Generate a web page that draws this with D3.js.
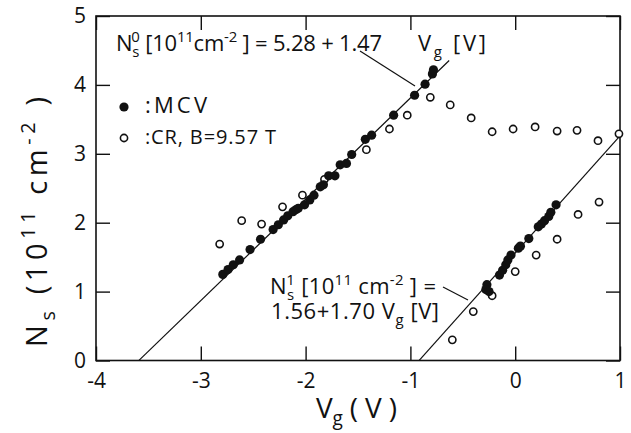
<!DOCTYPE html>
<html>
<head>
<meta charset="utf-8">
<script src="https://cdn.jsdelivr.net/npm/d3@7"></script>
<style>
    body { margin: 0; background: #fff; }
    svg text { font-family: "Open Sans", sans-serif; fill: #111; }
</style>
</head>
<body>
<svg id="chart"></svg>
<script>
// values: [Vg (V), Ns (1e11 cm^-2)]
let mcvBranch0 = [
    [-2.79, 1.25], [-2.74, 1.32], [-2.69, 1.39], [-2.63, 1.46], [-2.53, 1.61],
    [-2.43, 1.76], [-2.31, 1.90], [-2.26, 1.97], [-2.21, 2.04], [-2.17, 2.10],
    [-2.12, 2.16], [-2.09, 2.19], [-2.07, 2.21], [-2.01, 2.26], [-1.96, 2.33],
    [-1.92, 2.40], [-1.86, 2.52], [-1.83, 2.55], [-1.78, 2.68], [-1.72, 2.68],
    [-1.67, 2.84], [-1.61, 2.86], [-1.56, 2.99], [-1.43, 3.21], [-1.37, 3.27],
    [-1.16, 3.56], [-0.96, 3.85], [-0.86, 4.01], [-0.79, 4.16], [-0.78, 4.22]
];
let mcvBranch1 = [
    [-0.27, 1.10], [-0.28, 1.03], [-0.25, 1.00], [-0.15, 1.24], [-0.12, 1.31],
    [-0.09, 1.39], [-0.07, 1.46], [-0.04, 1.53], [0.03, 1.63], [0.05, 1.66],
    [0.13, 1.77], [0.22, 1.94], [0.25, 1.98], [0.28, 2.03], [0.32, 2.09],
    [0.34, 2.15], [0.39, 2.26]
];
let crUpper = [
    [-2.82, 1.69], [-2.61, 2.03], [-2.42, 1.98], [-2.22, 2.23], [-2.03, 2.40],
    [-1.82, 2.63], [-1.42, 3.06], [-1.20, 3.36], [-1.03, 3.56], [-0.81, 3.82],
    [-0.62, 3.71], [-0.42, 3.52], [-0.22, 3.32], [-0.02, 3.36], [0.19, 3.39],
    [0.40, 3.33], [0.59, 3.34], [0.79, 3.19], [0.99, 3.29]
];
let crLower = [
    [-0.60, 0.30], [-0.40, 0.71], [-0.22, 0.94], [0.00, 1.29], [0.20, 1.53],
    [0.40, 1.76], [0.60, 2.12], [0.80, 2.30]
];
// fitted lines Ns = n0 + slope * Vg, drawn over [vStart, vEnd]
let fitLines = [
    {n0: 5.28, slope: 1.47, vStart: -3.59, vEnd: -0.63},
    {n0: 1.56, slope: 1.70, vStart: -0.918, vEnd: 1.0}
];
let xTicks = [-4, -3, -2, -1, 0, 1];
let yTicks = [0, 1, 2, 3, 4, 5];

let width = 631;
let height = 433;
let margin = {top: 16, right: 11, bottom: 72.5, left: 96};

let svg = d3.select("#chart")
    .attr("width", width)
    .attr("height", height);

svg.append("rect")
    .attr("width", width)
    .attr("height", height)
    .attr("fill", "#fff");

let xScale = d3.scaleLinear()
    .domain([-4, 1])
    .range([margin.left, width - margin.right]);
let yScale = d3.scaleLinear()
    .domain([0, 5])
    .range([height - margin.bottom, margin.top]);

// axes, ticks point inward
let tickLen = 14;
let fmt = d => String(d);

svg.append("g")
    .attr("transform", "translate(0," + yScale(0) + ")")
    .call(d3.axisBottom(xScale).tickValues(xTicks).tickFormat(fmt).tickSizeInner(-tickLen).tickSizeOuter(0).tickPadding(13));

svg.append("g")
    .attr("transform", "translate(" + xScale(-4) + ",0)")
    .call(d3.axisLeft(yScale).tickValues(yTicks).tickFormat(fmt).tickSizeInner(-tickLen).tickSizeOuter(0).tickPadding(10));

svg.append("g")
    .attr("transform", "translate(0," + yScale(5) + ")")
    .call(d3.axisTop(xScale).tickValues(xTicks).tickFormat("").tickSizeInner(-tickLen).tickSizeOuter(0));

svg.append("g")
    .attr("transform", "translate(" + xScale(1) + ",0)")
    .call(d3.axisRight(yScale).tickValues(yTicks).tickFormat("").tickSizeInner(-tickLen).tickSizeOuter(0));

svg.selectAll(".domain").remove();
svg.selectAll(".tick line").attr("stroke", "#111").attr("stroke-width", 1.4);
svg.selectAll(".tick text")
    .attr("fill", "#111")
    .style("font-family", "'Open Sans', sans-serif")
    .style("font-size", "21px");

//frame
svg.append("rect")
    .attr("x", xScale(-4))
    .attr("y", yScale(5))
    .attr("width", xScale(1) - xScale(-4))
    .attr("height", yScale(0) - yScale(5))
    .attr("fill", "none")
    .attr("stroke", "#111")
    .attr("stroke-width", 1.6);

//fit lines
let line = d3.line()
    .x(d => xScale(d[0]))
    .y(d => yScale(d[1]));

svg.selectAll(".fit")
    .data(fitLines)
    .enter().append("path")
    .attr("class", "fit")
    .attr("fill", "none")
    .attr("stroke", "#111")
    .attr("stroke-width", 1.2)
    .attr("d", d => line([[d.vStart, d.n0 + d.slope * d.vStart], [d.vEnd, d.n0 + d.slope * d.vEnd]]));

//CR open circles
svg.selectAll(".cr")
    .data(crUpper.concat(crLower))
    .enter().append("circle")
    .attr("class", "cr")
    .attr("cx", d => xScale(d[0]))
    .attr("cy", d => yScale(d[1]))
    .attr("r", 3.6)
    .attr("fill", "#fff")
    .attr("stroke", "#111")
    .attr("stroke-width", 1.6);

//MCV filled dots
svg.selectAll(".mcv")
    .data(mcvBranch0.concat(mcvBranch1))
    .enter().append("circle")
    .attr("class", "mcv")
    .attr("cx", d => xScale(d[0]))
    .attr("cy", d => yScale(d[1]))
    .attr("r", 4.6)
    .attr("fill", "#111");

// text with sub/superscripts: parts are [text, "n"|"sub"|"sup", dx]
function richText(x, y, parts, size, len, rotate) {
    let t = svg.append("text")
        .style("font-size", size + "px");
    if (rotate)
        t.attr("transform", "translate(" + x + "," + y + ") rotate(-90)").attr("text-anchor", "middle");
    else
        t.attr("x", x).attr("y", y);
    let shift = 0;
    for (let p of parts) {
        let target = p[1] == "sup" ? -0.42 * size : (p[1] == "sub" ? 0.26 * size : 0);
        let ts = t.append("tspan")
            .attr("dy", target - shift)
            .style("font-size", (p[1] == "n" ? size : size * 0.68) + "px")
            .text(p[0]);
        if (p[2]) ts.attr("dx", p[2]);
        shift = target;
    }
    if (len) t.attr("textLength", len).attr("lengthAdjust", "spacing");
    return t;
}

// equation labels
richText(116, 51, [["N", "n"], ["s", "sub"], ["0", "sup", -8], [" [10", "n"], ["11", "sup"],
    ["cm", "n"], ["-2", "sup"], [" ] = 5.28 + 1.47", "n"]], 22, 266);
richText(418, 51, [["V", "n"], ["g", "sub"], [" [V]", "n"]], 22, 68);
richText(270, 294, [["N", "n"], ["s", "sub"], ["1", "sup", -8], [" [10", "n"], ["11", "sup"],
    [" cm", "n"], ["-2", "sup"], [" ] =", "n"]], 22, 166);
richText(271, 319, [["1.56+1.70  V", "n"], ["g", "sub"], [" [V]", "n"]], 22, 168);

// leader lines
svg.append("line").attr("x1", 360).attr("y1", 51).attr("x2", 415).attr("y2", 86)
    .attr("stroke", "#111").attr("stroke-width", 1.2);
svg.append("line").attr("x1", 443).attr("y1", 287).attr("x2", 468).attr("y2", 300)
    .attr("stroke", "#111").attr("stroke-width", 1.2);

// legend
svg.append("circle").attr("cx", 124).attr("cy", 107).attr("r", 4.6).attr("fill", "#111");
svg.append("text").attr("x", 145).attr("y", 113).style("font-size", "22px")
    .attr("textLength", 62).attr("lengthAdjust", "spacing").text(":MCV");
svg.append("circle").attr("cx", 124).attr("cy", 138).attr("r", 3.6)
    .attr("fill", "#fff").attr("stroke", "#111").attr("stroke-width", 1.6);
svg.append("text").attr("x", 145).attr("y", 144).style("font-size", "20px")
    .attr("textLength", 131).attr("lengthAdjust", "spacing").text(":CR, B=9.57 T");

// axis titles
richText(316, 418, [["V", "n"], ["g", "sub"], [" ( V )", "n"]], 28, 81);
richText(47, 222, [["N", "n"], ["s", "sub"], [" (10", "n"], ["11", "sup"], [" cm", "n"], ["-2", "sup"], [" )", "n"]], 29, 250, true);
</script>
</body>
</html>
